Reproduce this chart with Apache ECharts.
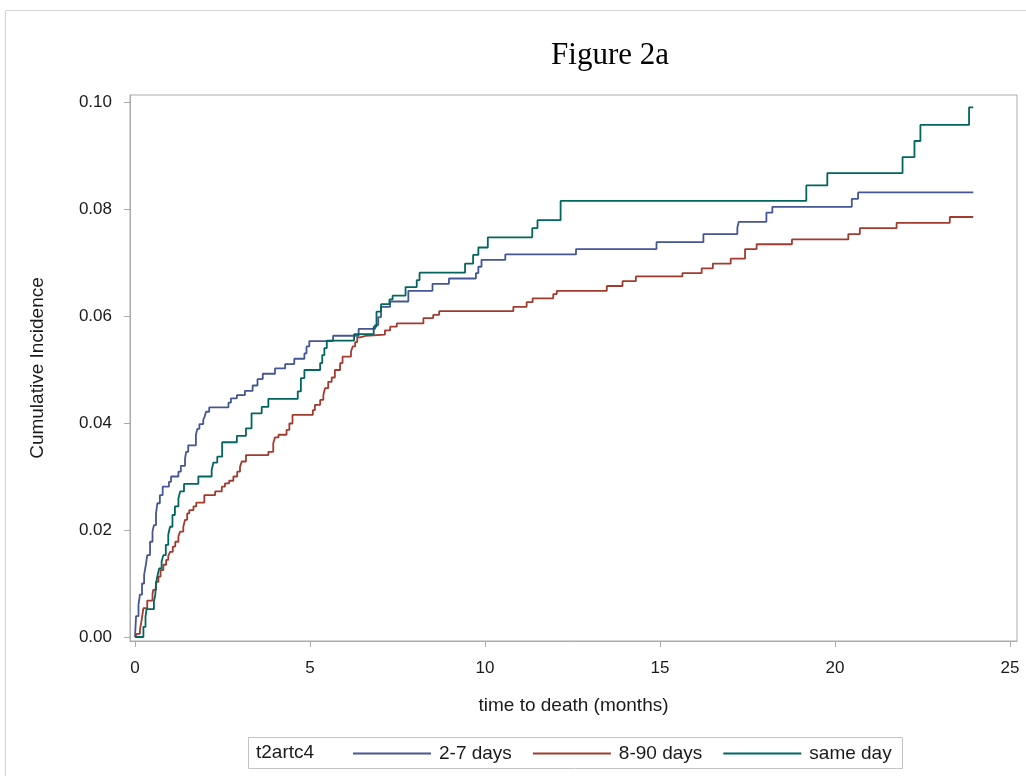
<!DOCTYPE html>
<html>
<head>
<meta charset="utf-8">
<title>Figure 2a</title>
<script src="https://cdn.jsdelivr.net/npm/echarts@6/dist/echarts.min.js"></script>
<style>
  html, body { margin: 0; padding: 0; background: #ffffff; }
  #chart { width: 1026px; height: 776px; }
</style>
</head>
<body>
<div id="chart"></div>
<script>
// Cumulative incidence step functions: [time in months, cumulative incidence]
const groupLabels = ['2-7 days', '8-90 days', 'same day'];
const legendTitle = 't2artc4';
const xTicks = [0, 5, 10, 15, 20, 25];
const yTicks = [0, 0.02, 0.04, 0.06, 0.08, 0.10];

const cif2to7 = [
  [0, 0], [0.03, 0.0039], [0.10, 0.0060], [0.14, 0.0079], [0.20, 0.0100], [0.26, 0.0116],
  [0.31, 0.0135], [0.35, 0.0153], [0.43, 0.0178], [0.50, 0.0197], [0.54, 0.0209],
  [0.60, 0.0231], [0.64, 0.0250], [0.71, 0.0265], [0.79, 0.0281], [0.97, 0.0290],
  [1.03, 0.0300], [1.24, 0.0309], [1.31, 0.0320], [1.43, 0.0334], [1.46, 0.0346],
  [1.52, 0.0358], [1.74, 0.0378], [1.78, 0.0389], [1.84, 0.0398], [1.95, 0.0406],
  [1.99, 0.0412], [2.03, 0.0421], [2.12, 0.0429], [2.67, 0.0438], [2.74, 0.0446],
  [2.91, 0.0452], [3.14, 0.0460], [3.36, 0.0470], [3.50, 0.0482], [3.65, 0.0492],
  [4.00, 0.0502], [4.29, 0.0510], [4.55, 0.0520], [4.84, 0.0530], [4.90, 0.0543],
  [4.98, 0.0553], [5.66, 0.0563], [6.39, 0.0576], [6.86, 0.0583], [6.95, 0.0598],
  [7.03, 0.0617], [7.29, 0.0627], [7.81, 0.0647], [8.50, 0.0660], [8.97, 0.0670],
  [9.74, 0.0680], [9.81, 0.0692], [9.90, 0.0705], [10.58, 0.0715], [12.60, 0.0725],
  [14.90, 0.0738], [16.24, 0.0753], [17.21, 0.0765], [17.25, 0.0776], [18.04, 0.0793],
  [18.21, 0.0804], [20.48, 0.0819], [20.66, 0.0831], [23.95, 0.0831]
];

const cif8to90 = [
  [0, 0], [0.05, 0.0006], [0.14, 0.0013], [0.19, 0.0032], [0.24, 0.0054], [0.35, 0.0068],
  [0.50, 0.0079], [0.52, 0.0088], [0.60, 0.0103], [0.67, 0.0113], [0.73, 0.0125],
  [0.81, 0.0135], [0.89, 0.0144], [0.95, 0.0151], [1.00, 0.0159], [1.08, 0.0169],
  [1.15, 0.0178], [1.24, 0.0188], [1.29, 0.0197], [1.38, 0.0206], [1.43, 0.0219],
  [1.49, 0.0231], [1.55, 0.0237], [1.67, 0.0244], [1.75, 0.0251], [1.98, 0.0265],
  [2.29, 0.0272], [2.48, 0.0281], [2.57, 0.0287], [2.69, 0.0292], [2.81, 0.0300],
  [2.92, 0.0309], [3.00, 0.0318], [3.05, 0.0328], [3.17, 0.0340], [3.81, 0.0346],
  [3.95, 0.0362], [4.00, 0.0373], [4.10, 0.0378], [4.33, 0.0387], [4.41, 0.0399],
  [4.50, 0.0415], [5.08, 0.0424], [5.14, 0.0434], [5.29, 0.0443], [5.38, 0.0452],
  [5.43, 0.0465], [5.52, 0.0477], [5.62, 0.0485], [5.71, 0.0499], [5.86, 0.0512],
  [5.93, 0.0524], [6.17, 0.0533], [6.22, 0.0543], [6.29, 0.0551], [6.35, 0.0560],
  [6.43, 0.0563], [6.59, 0.0565], [7.14, 0.0573], [7.29, 0.0580], [7.48, 0.0586],
  [8.24, 0.0596], [8.52, 0.0602], [8.69, 0.0609], [10.81, 0.0617], [11.19, 0.0626],
  [11.36, 0.0633], [11.95, 0.0641], [12.05, 0.0647], [13.48, 0.0656], [13.93, 0.0665],
  [14.31, 0.0674], [15.64, 0.0680], [16.19, 0.0689], [16.51, 0.0698], [17.02, 0.0707],
  [17.43, 0.0725], [17.76, 0.0734], [18.77, 0.0743], [20.38, 0.0753], [20.71, 0.0764],
  [21.76, 0.0774], [23.28, 0.0785], [23.95, 0.0785]
];

const cifSameDay = [
  [0, 0], [0.24, 0.0019], [0.30, 0.0038], [0.33, 0.0052], [0.54, 0.0066], [0.58, 0.0079],
  [0.60, 0.0100], [0.64, 0.0114], [0.69, 0.0128], [0.76, 0.0141], [0.81, 0.0153],
  [0.88, 0.0172], [0.95, 0.0191], [1.00, 0.0206], [1.07, 0.0228], [1.14, 0.0244],
  [1.24, 0.0259], [1.29, 0.0272], [1.40, 0.0286], [1.81, 0.0300], [2.19, 0.0312],
  [2.24, 0.0326], [2.35, 0.0337], [2.49, 0.0364], [2.91, 0.0376], [3.17, 0.0390],
  [3.33, 0.0418], [3.62, 0.0430], [3.81, 0.0445], [4.65, 0.0459], [4.74, 0.0484],
  [4.84, 0.0499], [5.29, 0.0512], [5.35, 0.0527], [5.41, 0.0540], [5.48, 0.0554],
  [6.26, 0.0566], [6.82, 0.0580], [6.90, 0.0608], [7.03, 0.0622], [7.27, 0.0631],
  [7.36, 0.0638], [7.73, 0.0654], [8.05, 0.0667], [8.13, 0.0681], [9.43, 0.0698],
  [9.66, 0.0714], [9.81, 0.0728], [10.08, 0.0747], [11.35, 0.0764], [11.50, 0.0779],
  [12.16, 0.0815], [19.18, 0.0844], [19.78, 0.0867], [21.93, 0.0897], [22.27, 0.0927],
  [22.44, 0.0957], [23.83, 0.0990], [23.95, 0.0990]
];

const colors = ['#445694', '#A23A2E', '#01665E'];
const frameColor = '#a7abaf';
const sans = '"Liberation Sans", Arial, sans-serif';
const textColor = '#1a1a1a';

const chart = echarts.init(document.getElementById('chart'), null, { renderer: 'canvas' });

function stepSeries(name, data, color) {
  return {
    name: name,
    type: 'line',
    step: 'end',
    data: data,
    symbol: 'none',
    showSymbol: false,
    silent: true,
    animation: false,
    lineStyle: { color: color, width: 1.8 },
    itemStyle: { color: color }
  };
}

chart.setOption({
  animation: false,
  backgroundColor: '#ffffff',
  title: {
    text: 'Figure 2a',
    left: 605,
    top: 35,
    textAlign: 'center',
    textStyle: { fontFamily: '"Liberation Serif", "Times New Roman", serif', fontSize: 31, fontWeight: 'normal', color: '#000' }
  },
  grid: {
    left: 130, right: 9, top: 95, bottom: 135,
    show: true, borderColor: frameColor, borderWidth: 1, backgroundColor: 'transparent'
  },
  xAxis: {
    type: 'value',
    min: -0.143,
    max: 25.2,
    name: 'time to death (months)',
    nameLocation: 'middle',
    nameGap: 55,
    nameTextStyle: { fontFamily: sans, fontSize: 19, color: textColor },
    axisLine: { show: true, onZero: false, lineStyle: { color: frameColor, width: 1 } },
    axisTick: { show: true, inside: false, length: 6, customValues: xTicks, lineStyle: { color: frameColor } },
    axisLabel: { customValues: xTicks, margin: 19, fontFamily: sans, fontSize: 17, color: textColor },
    splitLine: { show: false }
  },
  yAxis: {
    type: 'value',
    min: -0.00075,
    max: 0.1013,
    name: 'Cumulative Incidence',
    nameLocation: 'middle',
    nameGap: 83,
    nameRotate: 90,
    nameTextStyle: { fontFamily: sans, fontSize: 19, color: textColor },
    axisLine: { show: true, onZero: false, lineStyle: { color: frameColor, width: 1 } },
    axisTick: { show: true, inside: false, length: 6, customValues: yTicks, lineStyle: { color: frameColor } },
    axisLabel: {
      customValues: yTicks, margin: 18, fontFamily: sans, fontSize: 17, color: textColor,
      formatter: function (v) { return v.toFixed(2); }
    },
    splitLine: { show: false }
  },
  legend: {
    data: groupLabels,
    left: 352,
    top: 744,
    padding: 0,
    itemWidth: 78,
    itemHeight: 16,
    itemGap: 20,
    selectedMode: false,
    itemStyle: { opacity: 0 },
    textStyle: { fontFamily: sans, fontSize: 19, color: textColor, padding: [0, 0, 0, 3] }
  },
  graphic: [
    // light outer frame of the figure
    { type: 'line', silent: true, shape: { x1: 5.5, y1: 10.5, x2: 1026, y2: 10.5 }, style: { stroke: '#d4d4d4', lineWidth: 1 } },
    { type: 'line', silent: true, shape: { x1: 5.5, y1: 10.5, x2: 5.5, y2: 776 }, style: { stroke: '#d4d4d4', lineWidth: 1 } },
    // legend box and its group title
    { type: 'rect', silent: true, shape: { x: 248.5, y: 737.5, width: 654, height: 31 }, style: { fill: 'none', stroke: '#c4c4c4', lineWidth: 1 } },
    { type: 'text', silent: true, x: 256, y: 753, style: { text: legendTitle, font: '19px "Liberation Sans", Arial, sans-serif', fill: textColor, textVerticalAlign: 'middle' } }
  ],
  series: [
    stepSeries(groupLabels[0], cif2to7, colors[0]),
    stepSeries(groupLabels[1], cif8to90, colors[1]),
    stepSeries(groupLabels[2], cifSameDay, colors[2])
  ]
});
</script>
</body>
</html>
